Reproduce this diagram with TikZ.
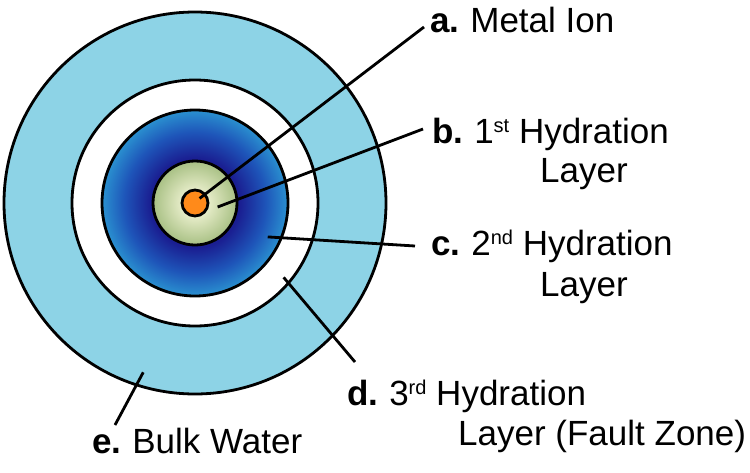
\documentclass[tikz,border=0pt]{standalone}
\usepackage{fontspec}
\setmainfont{Liberation Sans}
\usetikzlibrary{calc}

\definecolor{bulkblue}{RGB}{141,211,230}
\definecolor{navyblue}{RGB}{26,30,145}
\definecolor{midblue}{RGB}{30,85,185}
\definecolor{edgeblue}{RGB}{42,145,208}
\definecolor{palegreen}{RGB}{230,236,200}
\definecolor{sagegreen}{RGB}{168,192,132}
\definecolor{ionorange}{RGB}{255,138,26}

\pgfdeclareradialshading{secondlayer}{\pgfpoint{0bp}{0bp}}{color(0bp)=(navyblue); color(12bp)=(navyblue); color(19bp)=(midblue); color(25bp)=(edgeblue); color(50bp)=(edgeblue)}
\pgfdeclareradialshading{firstlayer}{\pgfpoint{0bp}{0bp}}{color(0bp)=(palegreen); color(8bp)=(palegreen); color(25bp)=(sagegreen); color(50bp)=(sagegreen)}

\newcommand{\ordsup}[1]{\raisebox{11pt}{\fontsize{20}{20}\selectfont #1}}

\tikzset{
  ring/.style={circle, draw=black, line width=2.8pt, inner sep=0pt},
  lbl/.style={anchor=base west, inner sep=0pt, font=\fontsize{35}{40}\selectfont},
  pointer/.style={line width=2.8pt}
}

\begin{document}
\begin{tikzpicture}[x=1pt,y=1pt,yscale=-1,xscale=1]
\useasboundingbox (0,0) rectangle (750,472);

% Circles
\node [ring, fill=bulkblue, minimum size=382pt] (bulk) at (195,203) {};
\node [ring, fill=white, minimum size=246pt] (layer3) at (195,203) {};
\node [ring, shading=secondlayer, minimum size=186pt] (layer2) at (195,203) {};
\node [ring, shading=firstlayer, minimum size=84pt] (layer1) at (195,203) {};
\node [ring, fill=ionorange, minimum size=26pt] (ion) at (195,203) {};

% Text Node
\node [lbl] (lblA) at (430,32) {\textbf{a.}\hspace{-2pt} Metal Ion};
% Text Node
\node [lbl] (lblB) at (432,143) {\textbf{b.}\hspace{-2pt} 1\ordsup{st} Hydration};
\node [lbl] (lblB2) at (540,182) {Layer};
% Text Node
\node [lbl] (lblC) at (431,255) {\textbf{c.}\hspace{-2pt} 2\ordsup{nd} Hydration};
\node [lbl] (lblC2) at (540,296) {Layer};
% Text Node
\node [lbl] (lblD) at (347,405) {\textbf{d.}\hspace{-2pt} 3\ordsup{rd} Hydration};
\node [lbl] (lblD2) at (458,445) {Layer (Fault Zone)};
% Text Node
\node [lbl] (lblE) at (92,453) {\textbf{e.}\hspace{-2pt} Bulk Water};

% Line ends at the labels
\coordinate (endA) at (424,27);
\coordinate (endB) at (423,129);
\coordinate (endC) at (415,246);
\coordinate (endD) at (355,362);
\coordinate (endE) at (115,425);

%Straight Lines
\draw [pointer] ($(ion.center)!0.45!(ion.north east)$) -- (endA);
\draw [pointer] ($(layer1.center)!0.53!(layer1.-10)$) -- (endB);
\draw [pointer] ($(layer2.center)!0.85!(layer2.-25)$) -- (endC);
\draw [pointer] ($(layer3.center)!0.93!(layer3.-40)$) -- (endD);
\draw [pointer] ($(bulk.center)!0.92!(bulk.253)$) -- (endE);

\end{tikzpicture}
\end{document}
